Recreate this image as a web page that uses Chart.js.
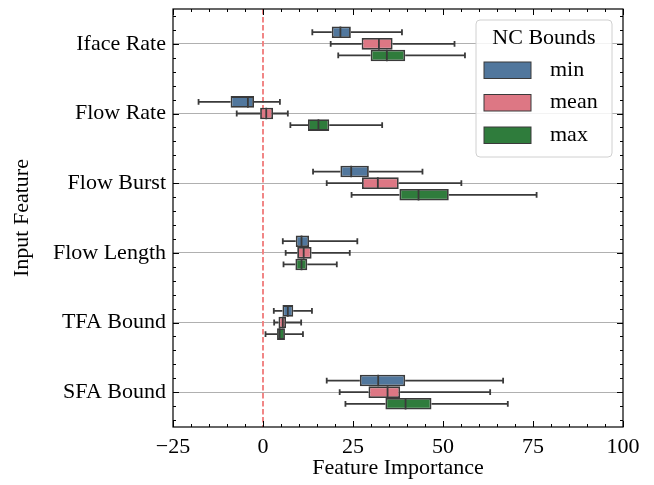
<!DOCTYPE html>
<html>
<head>
<meta charset="utf-8">
<script src="https://cdn.jsdelivr.net/npm/chart.js@4"></script>
<style>
  html, body { margin: 0; padding: 0; background: #fff; }
  #wrap { width: 654px; height: 485px; }
</style>
</head>
<body>
<div id="wrap"><canvas id="chart"></canvas></div>
<script>
const features = ['Iface Rate', 'Flow Rate', 'Flow Burst', 'Flow Length', 'TFA Bound', 'SFA Bound'];
const boundNames = ['min', 'mean', 'max'];
const boundColors = ['#51779d', '#dd7784', '#2f7c3c'];
const xTicks = [-25, 0, 25, 50, 75, 100];

// [whisker low, q1, median, q3, whisker high] for each feature
const statsMin = [
    [13.7, 19.1, 21.5, 24.4, 38.6],
    [-17.9, -9.0, -4.2, -2.5, 4.7],
    [13.9, 21.5, 24.5, 29.4, 44.3],
    [5.5, 9.1, 10.7, 12.8, 26.2],
    [3.0, 5.4, 6.9, 8.4, 13.6],
    [17.7, 26.9, 32.0, 39.5, 66.7]
];
const statsMean = [
    [18.8, 27.4, 32.2, 36.0, 53.2],
    [-7.3, -0.8, 0.9, 2.8, 6.9],
    [17.7, 27.5, 31.9, 37.7, 55.1],
    [6.3, 9.5, 11.3, 13.5, 24.1],
    [3.1, 4.3, 5.5, 6.4, 10.6],
    [21.3, 29.3, 34.6, 38.1, 63.1]
];
const statsMax = [
    [20.9, 29.9, 34.4, 39.5, 56.1],
    [7.6, 12.5, 15.4, 18.4, 33.1],
    [24.6, 37.9, 43.2, 51.6, 76.0],
    [5.7, 9.0, 10.7, 12.3, 20.5],
    [0.7, 3.9, 4.6, 6.1, 11.1],
    [22.9, 34.0, 39.6, 46.8, 68.0]
];

const FONT = '"Liberation Serif", "DejaVu Serif", serif';
const EDGE = '#3a3a3a';

const allStats = [statsMin, statsMean, statsMax];

const datasets = allStats.map((stats, i) => ({
    label: boundNames[i],
    data: stats.map(s => [s[1], s[3]]),
    stats: stats,
    backgroundColor: boundColors[i],
    borderColor: EDGE,
    borderWidth: 1.8,
    borderSkipped: false,
    categoryPercentage: 0.5,
    barPercentage: 1.0
}));

// whiskers, caps and medians on top of the floating bars
const boxExtras = {
    id: 'boxExtras',
    afterDatasetsDraw(chart) {
        const ctx = chart.ctx;
        const x = chart.scales.x;
        ctx.save();
        ctx.strokeStyle = EDGE;
        ctx.lineWidth = 1.8;
        chart.data.datasets.forEach((ds, di) => {
            const meta = chart.getDatasetMeta(di);
            meta.data.forEach((bar, i) => {
                const s = ds.stats[i];
                const y = bar.y;
                const h = bar.height;
                const px = s.map(v => x.getPixelForValue(v));
                ctx.beginPath();
                ctx.moveTo(px[0], y); ctx.lineTo(px[1], y);
                ctx.moveTo(px[3], y); ctx.lineTo(px[4], y);
                ctx.moveTo(px[0], y - h / 4); ctx.lineTo(px[0], y + h / 4);
                ctx.moveTo(px[4], y - h / 4); ctx.lineTo(px[4], y + h / 4);
                ctx.moveTo(px[2], y - h / 2); ctx.lineTo(px[2], y + h / 2);
                ctx.stroke();
            });
        });
        ctx.restore();
    }
};

// dashed zero reference line
const zeroLine = {
    id: 'zeroLine',
    beforeDatasetsDraw(chart) {
        const ctx = chart.ctx;
        const a = chart.chartArea;
        const px = Math.round(chart.scales.x.getPixelForValue(0));
        ctx.save();
        ctx.strokeStyle = 'rgba(240,128,128,0.95)';
        ctx.lineWidth = 2;
        ctx.setLineDash([5.5, 2.5]);
        ctx.beginPath();
        ctx.moveTo(px, a.top);
        ctx.lineTo(px, a.bottom);
        ctx.stroke();
        ctx.restore();
    }
};

// full frame with inward major and minor ticks on all sides
const frameTicks = {
    id: 'frameTicks',
    afterDraw(chart) {
        const ctx = chart.ctx;
        const a = chart.chartArea;
        const x = chart.scales.x;
        const y = chart.scales.y;
        ctx.save();
        ctx.strokeStyle = '#000';
        ctx.lineWidth = 1;
        ctx.beginPath();
        for (let v = -25; v <= 100; v += 5) {
            const px = Math.round(x.getPixelForValue(v)) + 0.5;
            const len = v % 25 === 0 ? 6 : 3;
            ctx.moveTo(px, a.bottom); ctx.lineTo(px, a.bottom - len);
            ctx.moveTo(px, a.top); ctx.lineTo(px, a.top + len);
        }
        for (let k = -2; k <= 27; k++) {
            const v = k * 0.2;
            if (v < -0.45 || v > 5.45) continue;
            const py = Math.round(y.getPixelForValue(v)) + 0.5;
            const len = k % 5 === 0 ? 6 : 3;
            ctx.moveTo(a.left, py); ctx.lineTo(a.left + len, py);
            ctx.moveTo(a.right, py); ctx.lineTo(a.right - len, py);
        }
        ctx.stroke();
        ctx.lineWidth = 1.2;
        ctx.strokeRect(a.left, a.top, a.right - a.left, a.bottom - a.top);
        ctx.restore();
    }
};

// legend box inside the plot, upper right
const boxLegend = {
    id: 'boxLegend',
    afterDraw(chart) {
        const ctx = chart.ctx;
        const a = chart.chartArea;
        const w = 136, h = 137;
        const left = a.right - 11 - w;
        const top = a.top + 11;
        ctx.save();
        ctx.fillStyle = 'rgba(255,255,255,0.85)';
        ctx.strokeStyle = '#d0d0d0';
        ctx.lineWidth = 1;
        ctx.beginPath();
        ctx.roundRect(left, top, w, h, 4);
        ctx.fill();
        ctx.stroke();
        ctx.fillStyle = '#000';
        ctx.font = '22px ' + FONT;
        ctx.textAlign = 'center';
        ctx.textBaseline = 'middle';
        ctx.fillText('NC Bounds', left + w / 2, top + 18);
        ctx.textAlign = 'left';
        chart.data.datasets.forEach((ds, i) => {
            const cy = top + 50 + i * 32.5;
            ctx.fillStyle = ds.backgroundColor;
            ctx.fillRect(left + 8, cy - 8, 47, 16.5);
            ctx.strokeStyle = EDGE;
            ctx.lineWidth = 1;
            ctx.strokeRect(left + 8, cy - 8, 47, 16.5);
            ctx.fillStyle = '#000';
            ctx.fillText(ds.label, left + 74, cy);
        });
        ctx.restore();
    }
};

const noScalePadding = scale => {
    scale.paddingTop = 0;
    scale.paddingBottom = 0;
    scale.paddingLeft = 0;
    scale.paddingRight = 0;
};

new Chart(document.getElementById('chart'), {
    type: 'bar',
    data: { labels: features, datasets: datasets },
    options: {
        indexAxis: 'y',
        responsive: true,
        maintainAspectRatio: false,
        animation: false,
        layout: { autoPadding: false, padding: { top: 9, right: 31, left: 9, bottom: 4 } },
        plugins: {
            legend: { display: false },
            tooltip: { enabled: false }
        },
        scales: {
            x: {
                type: 'linear',
                min: -25,
                max: 100,
                afterBuildTicks: scale => { scale.ticks = xTicks.map(v => ({ value: v })); },
                afterFit: scale => { scale.height = 54; noScalePadding(scale); },
                grid: { display: false, drawTicks: false },
                border: { display: false },
                ticks: {
                    color: '#000',
                    padding: 7,
                    font: { family: FONT, size: 22 },
                    callback: v => String(v).replace('-', '\u2212')
                },
                title: {
                    display: true,
                    text: 'Feature Importance',
                    color: '#000',
                    padding: { top: 0, bottom: 0 },
                    font: { family: FONT, size: 22 }
                }
            },
            y: {
                afterFit: scale => { scale.width = 164; noScalePadding(scale); },
                grid: { color: '#b0b0b0', lineWidth: 1, drawTicks: false, offset: false },
                border: { display: false },
                ticks: {
                    color: '#000',
                    padding: 7,
                    font: { family: FONT, size: 22 }
                },
                title: {
                    display: true,
                    text: 'Input Feature',
                    color: '#000',
                    padding: { top: 0, bottom: 0 },
                    font: { family: FONT, size: 22 }
                }
            }
        }
    },
    plugins: [zeroLine, boxExtras, frameTicks, boxLegend]
});
</script>
</body>
</html>
